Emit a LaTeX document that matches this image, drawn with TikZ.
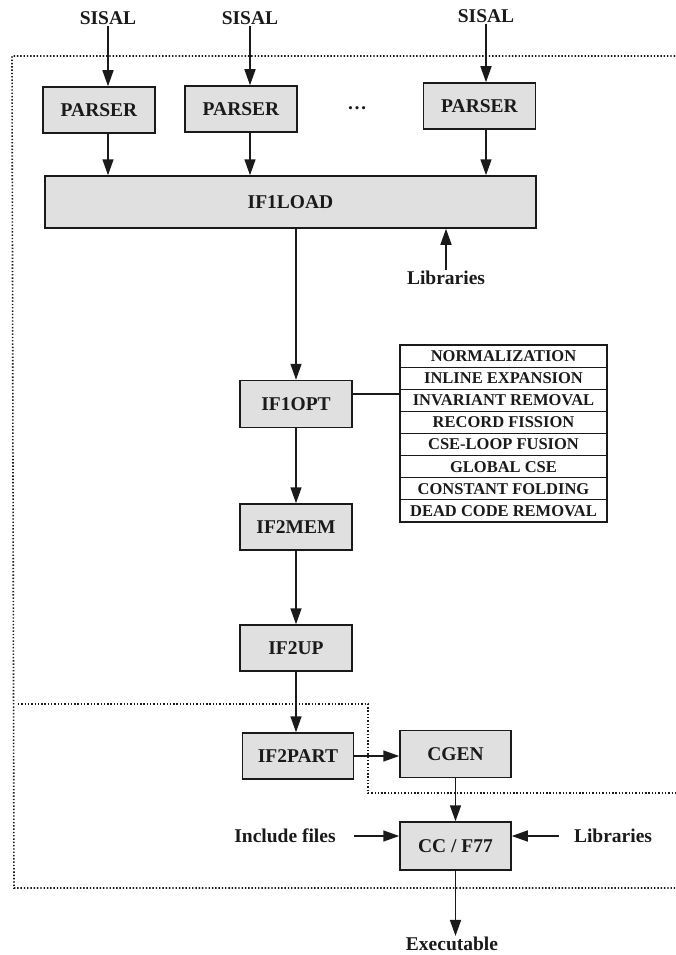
\documentclass[tikz,border=0pt]{standalone}
\usepackage{fontspec}
\setmainfont{Liberation Serif}
\usetikzlibrary{positioning,arrows.meta,calc}
\definecolor{ink}{HTML}{1A1A1A}
\definecolor{stipple}{HTML}{E0E0E0}
\newcommand\boxfont{\fontsize{19.5}{22}\selectfont\bfseries}
\newcommand\rowfont{\fontsize{16.5}{18}\selectfont\bfseries}

\begin{document}
\begin{tikzpicture}[
  x=1pt, y=-1pt,
  every node/.style={text=ink},
  pass/.style={
    rectangle, draw=ink, line width=1.5pt,
    fill=stipple,
    minimum height=46pt, minimum width=112pt, align=center,
    inner sep=0pt, font=\boxfont
  },
  optrow/.style={
    rectangle, draw=ink, line width=1.1pt, fill=white,
    minimum height=22.125pt, minimum width=207pt,
    inner sep=0pt, font=\rowfont
  },
  lbl/.style={font=\boxfont, inner sep=1pt},
  flow/.style={draw=ink, line width=1.6pt, -{Triangle[length=16pt,width=11pt]}},
  region/.style={draw=ink, line width=1.6pt, dash pattern=on 1.4pt off 1.9pt}
]
\useasboundingbox (0,0) rectangle (675,955);

% Front ends
\node[lbl] (s1) at (108,18) {SISAL};
\node[lbl] (s2) at (250,18) {SISAL};
\node[lbl] (s3) at (486,16) {SISAL};

\node[pass] (p1) at (99,110) {PARSER};
\node[pass] (p2) at (241,109) {PARSER};
\node[pass] (p3) at (479.5,106) {PARSER};
\node[font=\boxfont] (dots) at (357,108) {\dots};

\node[pass, minimum width=491pt, minimum height=52pt] (load) at (290.5,202) {IF1LOAD};
\node[lbl] (lib1) at (446,278) {Libraries};

\foreach \s/\p in {s1/p1, s2/p2, s3/p3} {
  \draw[flow] (\s.south) -- (\s |- \p.north);
  \draw[flow] (\s |- \p.south) -- (\s |- load.north);
}
\draw[flow] (lib1.north) -- (lib1 |- load.south);

% Optimizer passes
\node[pass, minimum height=47pt] (opt) at (296,404) {IF1OPT};
\foreach \txt [count=\i] in {NORMALIZATION, INLINE EXPANSION, INVARIANT REMOVAL,
  RECORD FISSION, CSE-LOOP FUSION, GLOBAL CSE, CONSTANT FOLDING, DEAD CODE REMOVAL} {
  \node[optrow] (r\i) at (503.5,{333.94+22.125*\i}) {\txt};
}
\draw[draw=ink, line width=1.6pt] ($(opt.east)+(0,-10)$) -- ($(opt.east -| r1.west)+(0,-10)$);

\node[pass] (mem) at (296,527) {IF2MEM};
\node[pass] (up) at (296,648) {IF2UP};

\draw[flow] (opt |- load.south) -- (opt.north);
\draw[flow] (opt.south) -- (mem.north);
\draw[flow] (mem.south) -- (up.north);

% Back end
\node[pass, minimum width=111pt] (part) at (298,756) {IF2PART};
\node[pass, minimum width=111pt, minimum height=47pt] (cgen) at (455.5,754) {CGEN};
\node[pass, minimum width=111pt, minimum height=48pt] (cc) at (455.5,846) {CC / F77};
\node[lbl] (inc) at (285,836) {Include files};
\node[lbl] (lib2) at (613,836) {Libraries};
\node[lbl] (exe) at (452,944) {Executable};

\draw[flow] (up.south) -- (up.south |- part.north);
\draw[flow] (part.east) -- (part.east -| cgen.west);
\draw[flow] (cgen.south) -- (cc.north);
\draw[flow, shorten <=17pt] (inc.east) -- (inc.east -| cc.west);
\draw[flow, shorten <=14pt] (lib2.west) -- (lib2.west -| cc.east);
\draw[flow] (cc.south) -- (cc.south |- exe.north);

% Dotted regions
\draw[region] (675,56) -- (12,56) -- (14,888) -- (675,888);
\draw[region] (18,704) -- (368,704) -- (368,793) -- (675,793);

\end{tikzpicture}
\end{document}
